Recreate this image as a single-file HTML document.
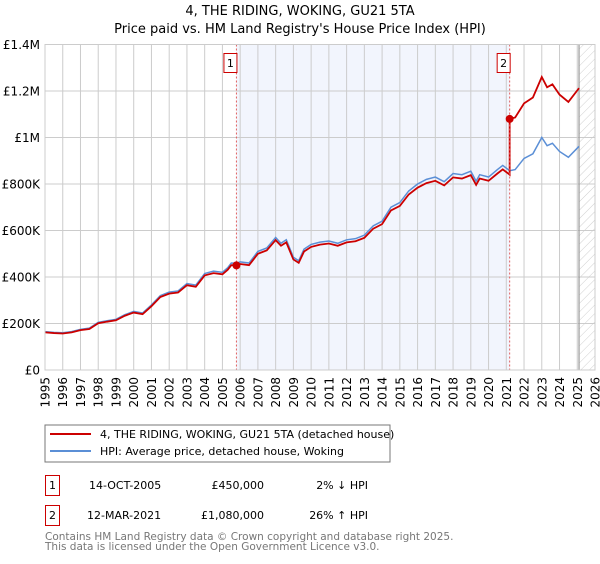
<!DOCTYPE html>
<html><head><meta charset="utf-8"><style>
body{margin:0;background:#fff;font-family:"DejaVu Sans","Liberation Sans",sans-serif;}
svg text{font-family:"DejaVu Sans","Liberation Sans",sans-serif;}
</style></head><body>
<svg id="c" width="600" height="560" xmlns="http://www.w3.org/2000/svg">
<defs><pattern id="hatch" width="6" height="6" patternUnits="userSpaceOnUse" patternTransform="rotate(45)"><line x1="0" y1="0" x2="0" y2="6" stroke="#bbb" stroke-width="0.7"/></pattern></defs>
<text x="300" y="15" text-anchor="middle" font-size="13">4, THE RIDING, WOKING, GU21 5TA</text>
<text x="300" y="33" text-anchor="middle" font-size="13">Price paid vs. HM Land Registry's House Price Index (HPI)</text>
<g id="plot"></g>
<rect x="45" y="425" width="345" height="37" fill="#fff" stroke="#777"/>
<line x1="50" y1="434" x2="91" y2="434" stroke="#cc0000" stroke-width="2"/>
<text x="100" y="438" font-size="11">4, THE RIDING, WOKING, GU21 5TA (detached house)</text>
<line x1="50" y1="451" x2="91" y2="451" stroke="#5b8fd6" stroke-width="2"/>
<text x="100" y="455" font-size="11">HPI: Average price, detached house, Woking</text>
<g font-size="11">
<rect x="45.5" y="475.5" width="14" height="20" fill="none" stroke="#cc0000"/>
<text x="52.5" y="489" text-anchor="middle">1</text>
<text x="89" y="489">14-OCT-2005</text>
<text x="264" y="489" text-anchor="end">£450,000</text>
<text x="368" y="489" text-anchor="end">2% ↓ HPI</text>
<rect x="45.5" y="505.5" width="14" height="20" fill="none" stroke="#cc0000"/>
<text x="52.5" y="519" text-anchor="middle">2</text>
<text x="87" y="519">12-MAR-2021</text>
<text x="264" y="519" text-anchor="end">£1,080,000</text>
<text x="368" y="519" text-anchor="end">26% ↑ HPI</text>
</g>
<text x="45" y="540" font-size="10.5" fill="#777">Contains HM Land Registry data © Crown copyright and database right 2025.</text>
<text x="45" y="550" font-size="10.5" fill="#777">This data is licensed under the Open Government Licence v3.0.</text>
</svg>
<script>
const hpiYears=[1995,1995.5,1996,1996.5,1997,1997.5,1998,1998.5,1999,1999.5,2000,2000.5,2001,2001.5,2002,2002.5,2003,2003.5,2004,2004.5,2005,2005.3,2005.5,2005.79,2006,2006.5,2007,2007.5,2008,2008.3,2008.6,2009,2009.3,2009.6,2010,2010.5,2011,2011.5,2012,2012.5,2013,2013.5,2014,2014.5,2015,2015.5,2016,2016.5,2017,2017.5,2018,2018.5,2019,2019.3,2019.5,2020,2020.5,2020.8,2021.19,2021.5,2022,2022.5,2023,2023.3,2023.6,2024,2024.5,2025.1];
const hpiValues=[165,162,160,165,175,180,205,212,218,238,252,245,280,320,335,340,372,365,415,425,420,440,460,459,465,460,510,525,570,545,560,485,470,520,540,550,555,545,560,565,580,620,640,700,720,770,800,820,830,810,845,840,855,812,840,830,862,880,857,862,910,930,1000,965,975,940,915,962];
const saleYears=[2005.79,2021.19];
const saleValues=[450,1080];
const saleLabels=["1","2"];
const yTicks=[0,200,400,600,800,1000,1200,1400];
const yTickLabels=["£0","£200K","£400K","£600K","£800K","£1M","£1.2M","£1.4M"];
const xTicks=[1995,1996,1997,1998,1999,2000,2001,2002,2003,2004,2005,2006,2007,2008,2009,2010,2011,2012,2013,2014,2015,2016,2017,2018,2019,2020,2021,2022,2023,2024,2025,2026];
const dataEnd=2025.1;

const X0=45,X1=595,Y0=370,Y1=44.5;
const x=v=>X0+(v-1995)/(2026-1995)*(X1-X0);
const y=v=>Y0-v/1400*(Y0-Y1);
const g=document.getElementById('plot');
const NS='http://www.w3.org/2000/svg';
function mk(t,a){const e=document.createElementNS(NS,t);for(const k in a)e.setAttribute(k,a[k]);g.appendChild(e);return e;}

let e=mk('rect',{x:x(saleYears[0]),y:Y1,width:x(saleYears[1])-x(saleYears[0]),height:Y0-Y1,fill:'#eef2fc',opacity:0.75});


e=mk('rect',{x:x(dataEnd),y:Y1,width:X1-x(dataEnd),height:Y0-Y1,fill:'url(#hatch)'});


xTicks.forEach(t=>{
 const l=mk('line',{x1:x(t),x2:x(t),y1:Y1,y2:Y0,stroke:'#ccc','stroke-width':1});
 
 
 const tx=mk('text',{x:0,y:0,'font-size':12,'text-anchor':'end',transform:`translate(${x(t)+4.5},${Y0+7}) rotate(-90)`});
 tx.textContent=t;
 
 
});
yTicks.forEach((t,i)=>{
 const l=mk('line',{x1:X0,x2:X1,y1:y(t),y2:y(t),stroke:'#ccc','stroke-width':1});
 
 
 const tx=mk('text',{x:X0-5,y:y(t)+4.5,'font-size':12,'text-anchor':'end'});
 tx.textContent=yTickLabels[i];
 
 
});
e=mk('line',{x1:x(dataEnd),x2:x(dataEnd),y1:Y1,y2:Y0,stroke:'#999','stroke-width':1.2});


// red series: HPI indexed to sale prices
const r1=saleValues[0]/hpiValues[hpiYears.indexOf(saleYears[0])];
const r2=saleValues[1]/hpiValues[hpiYears.indexOf(saleYears[1])];
let bp=[],rp=[];
hpiYears.forEach((yr,i)=>{
 bp.push(x(yr)+','+y(hpiValues[i]));
 if(yr<saleYears[1])rp.push(x(yr)+','+y(hpiValues[i]*r1));
 else if(yr===saleYears[1]){rp.push(x(yr)+','+y(hpiValues[i]*r1));rp.push(x(yr)+','+y(hpiValues[i]*r2));}
 else rp.push(x(yr)+','+y(hpiValues[i]*r2));
});
e=mk('polyline',{points:bp.join(' '),fill:'none',stroke:'#5b8fd6','stroke-width':1.5});


e=mk('polyline',{points:rp.join(' '),fill:'none',stroke:'#cc0000','stroke-width':1.8});


saleYears.forEach((yr,i)=>{
 const l=mk('line',{x1:x(yr),x2:x(yr),y1:Y1,y2:Y0,stroke:'#e06060','stroke-width':1,'stroke-dasharray':'2,2'});
 
 
 const c=mk('circle',{cx:x(yr),cy:y(saleValues[i]),r:4,fill:'#cc0000'});
 
 
 const b=mk('rect',{x:x(yr)-12.5,y:53.5,width:13,height:19,fill:'#fff',stroke:'#cc0000'});
 
 
 const t=mk('text',{x:x(yr)-6,y:67,'font-size':11,'text-anchor':'middle'});
 t.textContent=saleLabels[i];
 
 
});
e=mk('rect',{x:X0,y:Y1,width:X1-X0,height:Y0-Y1,fill:'none',stroke:'#ccc'});


</script>
</body></html>
